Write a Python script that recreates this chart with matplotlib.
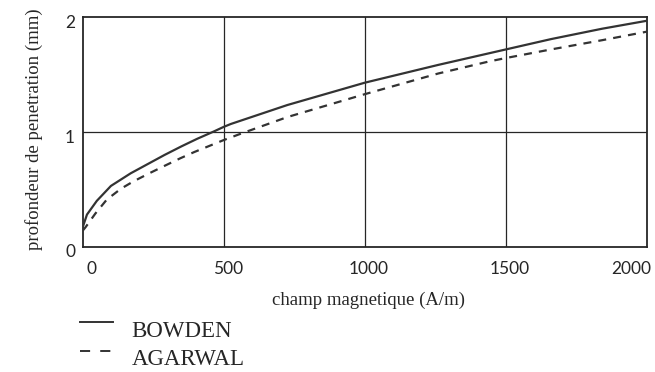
import matplotlib
matplotlib.use("Agg")
import matplotlib.pyplot as plt
from matplotlib.lines import Line2D
from matplotlib.transforms import ScaledTranslation

# Data
h_bowden = [0, 15, 50, 100, 170, 230, 290, 350, 405, 465, 500, 525, 725, 1000,
            1260, 1500, 1660, 1840, 2000]
d_bowden = [0.17, 0.28, 0.40, 0.53, 0.64, 0.72, 0.80, 0.875, 0.94, 1.005, 1.045, 1.07,
            1.235, 1.43, 1.585, 1.72, 1.81, 1.90, 1.97]

h_agarwal = [0, 10, 45, 85, 135, 180, 240, 290, 345, 395, 450, 500, 560, 725, 1000,
             1260, 1440, 1500, 1660, 1840, 2000]
d_agarwal = [0.14, 0.17, 0.29, 0.41, 0.505, 0.57, 0.645, 0.705, 0.77, 0.825, 0.88, 0.93,
             0.985, 1.13, 1.33, 1.51, 1.615, 1.645, 1.72, 1.80, 1.875]

x_ticks = [0, 500, 1000, 1500, 2000]
x_tick_labels = ["0", "500", "1000", "1500", "2000"]
y_ticks = [0, 1, 2]
y_tick_labels = ["0", "1", "2"]
series_names = ["BOWDEN", "AGARWAL"]
x_label = "champ magnetique (A/m)"
y_label = "profondeur de penetration (mm)"

SERIF = ["Liberation Serif", "DejaVu Serif"]
TICKF = ["Lato", "DejaVu Sans"]
INK = "#262626"
LINE = "#333333"

fig = plt.figure(figsize=(6.55, 3.72), dpi=100)
ax = fig.add_axes([0.1263, 0.3368, 0.9878 - 0.1263, 0.9535 - 0.3368])

ax.set_xlim(0, 2000)
ax.set_ylim(0, 2)

# grid
for xv in x_ticks[1:-1]:
    ax.axvline(xv, color=INK, lw=0.9, zorder=1)
for yv in y_ticks[1:-1]:
    ax.axhline(yv, color=INK, lw=0.9, zorder=1)

ax.plot(h_bowden, d_bowden, color=LINE, lw=1.6, solid_joinstyle="round", zorder=3)
ax.plot(h_agarwal, d_agarwal, color=LINE, lw=1.6, dashes=(3.6, 3.2), zorder=3)

for sp in ax.spines.values():
    sp.set_linewidth(1.3)
    sp.set_color(INK)

ax.set_xticks(x_ticks)
ax.set_xticklabels(x_tick_labels, family=TICKF, fontsize=12.5, color=INK)
ax.set_yticks(y_ticks)
ax.set_yticklabels(y_tick_labels, family=TICKF, fontsize=12.5, color=INK)
ax.tick_params(axis="both", length=0)
ax.tick_params(axis="x", pad=10)
ax.tick_params(axis="y", pad=5.5)

dx = ScaledTranslation(4 / 100, 0, fig.dpi_scale_trans)
for lab in ax.get_xticklabels():
    lab.set_transform(lab.get_transform() + dx)
xl = ax.get_xticklabels()
xl[0].set_horizontalalignment("left")
xl[-1].set_horizontalalignment("right")
dy = ScaledTranslation(0, -4 / 100, fig.dpi_scale_trans)
for lab in ax.get_yticklabels():
    lab.set_transform(lab.get_transform() + dy)

# axis labels
fig.text(369 / 655, 1 - 300 / 372, x_label, family=SERIF, fontsize=13.5,
         color=INK, ha="center", va="center")
fig.text(34 / 655, 1 - 129 / 372, y_label, family=SERIF, fontsize=13.5,
         color=INK, ha="center", va="center", rotation=90)

# legend (below the plot, left)
W, H = 655, 372
fig.add_artist(Line2D([80 / W, 113 / W], [1 - 321.7 / H, 1 - 321.7 / H],
                      transform=fig.transFigure, color=LINE, lw=1.4))
fig.add_artist(Line2D([80 / W, 113 / W], [1 - 350.5 / H, 1 - 350.5 / H],
                      transform=fig.transFigure, color=LINE, lw=1.4,
                      dashes=(5.2, 5.2)))
fig.text(131.5 / W, 1 - 336.7 / H, series_names[0], family=SERIF, fontsize=16.5,
         color=INK, ha="left", va="baseline")
fig.text(131.5 / W, 1 - 365 / H, series_names[1], family=SERIF, fontsize=16.5,
         color=INK, ha="left", va="baseline")

fig.savefig("out.png", dpi=100, facecolor="white")
